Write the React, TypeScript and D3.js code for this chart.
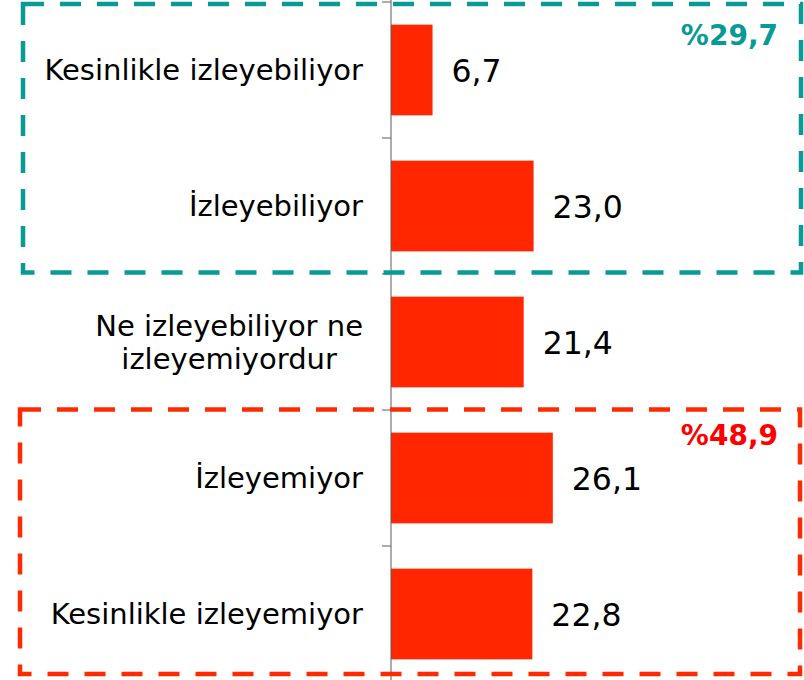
import React from "react";
import * as d3 from "d3";

const categories = [
  "Kesinlikle izleyebiliyor",
  "İzleyebiliyor",
  "Ne izleyebiliyor ne\nizleyemiyordur",
  "İzleyemiyor",
  "Kesinlikle izleyemiyor",
];
const values = [6.7, 23.0, 21.4, 26.1, 22.8];
const groupLabels = ["%29,7", "%48,9"];

const W = 804;
const H = 680;
const FONT = "'DejaVu Sans', Verdana, sans-serif";
const LABEL_SIZE = 29;

let measureCtx: CanvasRenderingContext2D | null = null;
function textWidth(s: string): number {
  if (!measureCtx) {
    const c = document.createElement("canvas");
    measureCtx = c.getContext("2d");
  }
  if (!measureCtx) return s.length * LABEL_SIZE * 0.55;
  measureCtx.font = `${LABEL_SIZE}px 'DejaVu Sans'`;
  return measureCtx.measureText(s).width;
}

export default function App() {
  const x = d3.scaleLinear().domain([0, 65]).range([391, 391 + 65 * 6.2]);
  const y = d3
    .scaleBand<string>()
    .domain(categories)
    .range([2, 682])
    .paddingInner(0.333)
    .paddingOuter(0.1665);
  const step = y.step();
  const bandStart = 2;
  const fmt = (v: number) => v.toFixed(1).replace(".", ",");
  const ticks = d3.range(categories.length + 1).map((i) => bandStart + i * step);
  const labelRight = 363;

  return (
    <svg
      width={W}
      height={H}
      style={{ position: "absolute", left: 0, top: 0, background: "#fff" }}
      fontFamily={FONT}
    >
      <rect x={0} y={0} width={W} height={H} fill="#fff" />
      {categories.map((c, i) => (
        <rect
          key={"b" + i}
          x={x(0)}
          y={y(c)}
          width={x(values[i]) - x(0)}
          height={y.bandwidth()}
          fill="#FF2600"
        />
      ))}
      <line x1={391} x2={391} y1={0} y2={H} stroke="#5a5a5a" strokeWidth={1} />
      {ticks.map((t, i) => (
        <line key={"t" + i} x1={382} x2={391} y1={t} y2={t} stroke="#5a5a5a" strokeWidth={1} />
      ))}
      {categories.map((c, i) => {
        const lines = c.split("\n");
        const cy = (y(c) as number) + y.bandwidth() / 2;
        const lh = 33.5;
        const y0 = cy - ((lines.length - 1) * lh) / 2;
        const multi = lines.length > 1;
        const maxW = multi ? Math.max(...lines.map(textWidth)) : 0;
        const ax = multi ? labelRight - maxW / 2 : labelRight;
        return (
          <text
            key={"l" + i}
            x={ax}
            textAnchor={multi ? "middle" : "end"}
            fontSize={LABEL_SIZE}
            fill="#000"
          >
            {lines.map((ln, j) => (
              <tspan key={j} x={ax} y={y0 + j * lh} dy="0.36em">
                {ln}
              </tspan>
            ))}
          </text>
        );
      })}
      {categories.map((c, i) => (
        <text
          key={"v" + i}
          x={x(values[i]) + 19}
          y={(y(c) as number) + y.bandwidth() / 2}
          dy="0.37em"
          fontSize={31.5}
          fill="#000"
        >
          {fmt(values[i])}
        </text>
      ))}
      <rect
        x={23}
        y={4}
        width={801 - 23}
        height={272.5 - 4}
        fill="none"
        stroke="#089A96"
        strokeWidth={4.5}
        strokeDasharray="21 16"
      />
      <rect
        x={20}
        y={409.5}
        width={800 - 20}
        height={674 - 409.5}
        fill="none"
        stroke="#FF2A00"
        strokeWidth={4.5}
        strokeDasharray="21 16"
      />
      <text x={778} y={45} textAnchor="end" fontSize={28} fontWeight="bold" fill="#089A96">
        {groupLabels[0]}
      </text>
      <text x={778} y={445} textAnchor="end" fontSize={28} fontWeight="bold" fill="#FF0000">
        {groupLabels[1]}
      </text>
    </svg>
  );
}
